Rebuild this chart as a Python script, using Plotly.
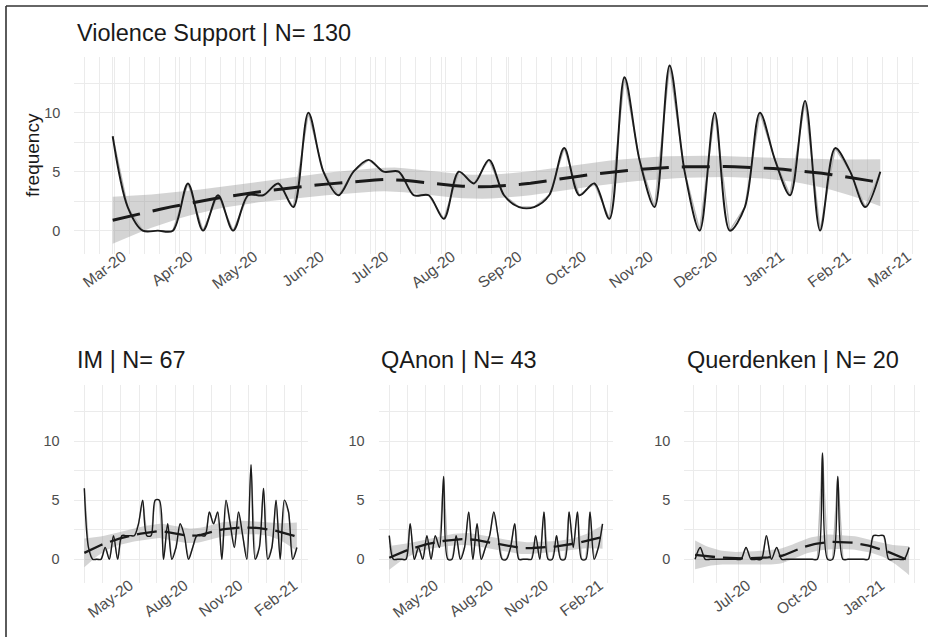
import numpy as np
import pandas as pd
import plotly.graph_objects as go

# ---------------- data ----------------
week_start = "2020-03-01"
n_weeks = 52
weeks = pd.date_range(week_start, periods=n_weeks, freq="7D")
qd_first_week = 9
qd_weeks = weeks[qd_first_week:]

violence_support = [8, 2, 0, 0, 0, 4, 0, 3, 0, 3,
                    3, 4, 2, 10, 5, 3, 5, 6, 5, 5,
                    3, 3, 1, 5, 4, 6, 3, 2, 2, 3,
                    7, 3, 4, 1, 13, 6, 2, 14, 5, 0,
                    10, 0, 2, 10, 6, 3, 11, 0, 7, 5,
                    2, 5]
im_values = [6, 1, 0, 0, 0, 1, 0, 2, 0, 2,
             2, 2, 2, 3, 5, 2, 2, 5, 5, 0,
             3, 0, 1, 3, 2, 0, 1, 2, 2, 2,
             4, 3, 4, 0, 5, 3, 1, 4, 2, 0,
             8, 0, 1, 6, 0, 1, 5, 0, 5, 4,
             0, 1]
qanon_values = [2, 0, 0, 0, 0, 3, 0, 1, 0, 2,
                0, 2, 1, 7, 0, 0, 2, 0, 1, 4,
                0, 3, 0, 1, 2, 4, 2, 0, 0, 1,
                3, 0, 0, 0, 0, 2, 0, 4, 0, 0,
                2, 0, 0, 4, 1, 4, 0, 0, 4, 0,
                1, 3]
querdenken_values = [0, 1, 0, 0, 0, 0, 0, 0, 0, 0,
                     1, 0, 0, 0, 2, 0, 1, 0, 0, 0,
                     0, 0, 0, 0, 0, 9, 0, 0, 7, 0,
                     0, 0, 0, 0, 0, 2, 2, 2, 0, 0,
                     0, 0, 1]

titles = ["Violence Support | N= 130", "IM | N= 67", "QAnon | N= 43", "Querdenken | N= 20"]
y_tick_vals = [0, 5, 10]
y_range = [-1.96, 14.76]

W, H = 928, 637
FONT = "Liberation Sans, Arial, Helvetica, sans-serif"
BAND_SCALE = 1.85
SUB = 7  # spline samples per weekly interval (daily resolution)


# ---------------- smoothing helpers ----------------
def catmull_rom(x, y, sub=SUB):
    """Sample the interpolating spline drawn through the weekly points."""
    x = np.asarray(x, float)
    y = np.asarray(y, float)
    p = np.concatenate([[y[0]], y, [y[-1]]])
    xs, ys = [], []
    for i in range(len(y) - 1):
        p0, p1, p2, p3 = p[i], p[i + 1], p[i + 2], p[i + 3]
        for s in range(sub):
            t = s / sub
            v = 0.5 * (2 * p1 + (-p0 + p2) * t + (2 * p0 - 5 * p1 + 4 * p2 - p3) * t**2
                       + (-p0 + 3 * p1 - 3 * p2 + p3) * t**3)
            xs.append(x[i] + (x[i + 1] - x[i]) * t)
            ys.append(v)
    xs.append(x[-1])
    ys.append(y[-1])
    return np.array(xs), np.array(ys)


def t975(df):
    z = 1.959963985
    g1 = (z**3 + z) / 4
    g2 = (5 * z**5 + 16 * z**3 + 3 * z) / 96
    g3 = (3 * z**7 + 19 * z**5 + 17 * z**3 - 15 * z) / 384
    return z + g1 / df + g2 / df**2 + g3 / df**3


def loess_ci(x, y, span=0.75, n_out=80):
    x = np.asarray(x, float)
    y = np.asarray(y, float)
    n = len(x)
    q = int(np.floor(n * span))

    def row(x0):
        d = np.abs(x - x0)
        h = np.sort(d)[q - 1]
        u = np.clip(d / h, 0, 1)
        w = (1 - u**3) ** 3
        X = np.column_stack([np.ones(n), x - x0, (x - x0) ** 2])
        XtW = X.T * w
        return np.linalg.solve(XtW @ X, XtW)[0]

    L = np.array([row(v) for v in x])
    R = np.eye(n) - L
    M = R.T @ R
    d1 = np.trace(M)
    d2 = np.sum(M * M)
    res = R @ y
    sigma = np.sqrt(res @ res / d1)
    df = d1**2 / d2
    xs = np.linspace(x.min(), x.max(), n_out)
    Ls = np.array([row(v) for v in xs])
    fit = Ls @ y
    se = sigma * np.sqrt((Ls**2).sum(1)) * BAND_SCALE
    t = t975(df)
    return xs, fit, fit - t * se, fit + t * se


def panel_traces(dates, values, xa, ya, spline_w, dash_w, dash):
    dates = pd.DatetimeIndex(dates)
    base = dates[0]
    days = (dates - base).days.values / 100.0
    dx, dy = catmull_rom(days, values)
    xs, fit, lo, hi = loess_ci(dx, dy)
    xd = [base + pd.Timedelta(days=float(v * 100)) for v in xs]
    tr = []
    tr.append(go.Scatter(x=xd, y=lo, mode="lines", line=dict(width=0, color="rgba(0,0,0,0)"),
                         xaxis=xa, yaxis=ya, hoverinfo="skip", showlegend=False))
    tr.append(go.Scatter(x=xd, y=hi, mode="lines", line=dict(width=0, color="rgba(0,0,0,0)"),
                         fill="tonexty", fillcolor="rgba(153,153,153,0.42)",
                         xaxis=xa, yaxis=ya, hoverinfo="skip", showlegend=False))
    tr.append(go.Scatter(x=dates, y=values, mode="lines", line=dict(width=1.4, color="#b8b8b8"),
                         xaxis=xa, yaxis=ya, showlegend=False))
    tr.append(go.Scatter(x=dates, y=values, mode="lines",
                         line=dict(width=spline_w, color="#1a1a1a", shape="spline", smoothing=0.9),
                         xaxis=xa, yaxis=ya, showlegend=False))
    tr.append(go.Scatter(x=xd, y=fit, mode="lines",
                         line=dict(width=dash_w, color="#1a1a1a", dash=dash),
                         xaxis=xa, yaxis=ya, showlegend=False))
    return tr


fig = go.Figure()
for t in panel_traces(weeks, violence_support, "x", "y", 1.9, 3.0, "28px,13px"):
    fig.add_trace(t)
for t in panel_traces(weeks, im_values, "x2", "y2", 1.4, 2.3, "20px,8px"):
    fig.add_trace(t)
for t in panel_traces(weeks, qanon_values, "x3", "y3", 1.4, 2.3, "20px,8px"):
    fig.add_trace(t)
for t in panel_traces(qd_weeks, querdenken_values, "x4", "y4", 1.4, 2.3, "20px,8px"):
    fig.add_trace(t)


def xr(dates):
    d0, d1 = pd.Timestamp(dates[0]), pd.Timestamp(dates[-1])
    pad = (d1 - d0) * 0.05
    return [d0 - pad, d1 + pad]


def px_x(a, b):
    return [a / W, b / W]


def px_y(top, bottom):
    return [1 - bottom / H, 1 - top / H]


ytickfont = dict(family=FONT, size=14.5, color="#4d4d4d")
xtickfont = dict(family=FONT, size=15.5, color="#4d4d4d")
GRID = "#EBEBEB"
LABEL_LIFT = 10  # px the x tick labels sit above the default position


def xaxis(domain, rng, dtick, tick0, mdtick, mtick0, ypos_px, shift):
    return dict(domain=domain, range=rng, type="date", anchor="free",
                position=1 - (ypos_px - LABEL_LIFT) / H,
                dtick=dtick, tick0=tick0, tickformat="%b-%y", tickangle=-37,
                tickfont=xtickfont, showgrid=True, gridcolor=GRID, gridwidth=1.4,
                zeroline=False, showline=False, ticks="", ticklabelshift=shift,
                minor=dict(dtick=mdtick, tick0=mtick0, showgrid=True,
                           gridcolor=GRID, gridwidth=0.8, ticks=""))


def yaxis(domain, anchor):
    return dict(domain=domain, range=y_range, anchor=anchor, tickvals=y_tick_vals,
                tickfont=ytickfont, showgrid=True, gridcolor=GRID, gridwidth=1.4,
                zeroline=False, showline=False, ticks="", ticklabelstandoff=13,
                minor=dict(dtick=2.5, tick0=0, showgrid=True, gridcolor=GRID,
                           gridwidth=0.8, ticks=""))


WEEK_MS = 7 * 86400000
TOP_T, TOP_B = 56.5, 253.8
BOT_T, BOT_B = 384.7, 582.5
top_y = px_y(TOP_T, TOP_B)
bot_y = px_y(BOT_T, BOT_B)

fig.update_layout(
    width=W, height=H, margin=dict(l=0, r=0, t=0, b=0),
    paper_bgcolor="white", plot_bgcolor="white", showlegend=False,
    font=dict(family=FONT, color="#1a1a1a"),
    xaxis=xaxis(px_x(74.3, 918.7), xr(weeks), "M1", "2020-03-01", WEEK_MS, "2020-03-02", TOP_B, 10),
    yaxis=yaxis(top_y, "x"),
    xaxis2=xaxis(px_x(73.7, 307.5), xr(weeks), "M3", "2020-02-01", "M1", "2020-03-01", BOT_B, 9),
    yaxis2=yaxis(bot_y, "x2"),
    xaxis3=xaxis(px_x(378.6, 613.2), xr(weeks), "M3", "2020-02-01", "M1", "2020-03-01", BOT_B, 9),
    yaxis3=yaxis(bot_y, "x3"),
    xaxis4=xaxis(px_x(684.4, 919.8), xr(qd_weeks), "M3", "2020-01-01", "M1", "2020-03-01", BOT_B, 9),
    yaxis4=yaxis(bot_y, "x4"),
)

annotations = []
title_pos = [(75, 33), (75, 360), (379, 360), (685, 360)]
for txt, (tx, ty) in zip(titles, title_pos):
    annotations.append(dict(text=txt, x=tx / W, y=1 - ty / H, xref="paper", yref="paper",
                            xanchor="left", yanchor="middle", showarrow=False,
                            font=dict(family=FONT, size=23.5, color="#1a1a1a")))
annotations.append(dict(text="frequency", x=32 / W, y=1 - 155 / H, xref="paper", yref="paper",
                        xanchor="center", yanchor="middle", showarrow=False, textangle=-90,
                        font=dict(family=FONT, size=19, color="#1a1a1a")))
fig.update_layout(annotations=annotations)

# outer frame (left and top edges visible in the picture)
fig.update_layout(shapes=[
    dict(type="line", xref="paper", yref="paper", x0=6 / W, x1=6 / W, y0=0, y1=1 - 6 / H,
         line=dict(color="#333333", width=1.6)),
    dict(type="line", xref="paper", yref="paper", x0=6 / W, x1=1, y0=1 - 6 / H, y1=1 - 6 / H,
         line=dict(color="#333333", width=1.6)),
])

fig.write_html("out.html", config={"displayModeBar": False},
               post_script="document.body.style.margin='0';document.body.style.overflow='hidden';")
